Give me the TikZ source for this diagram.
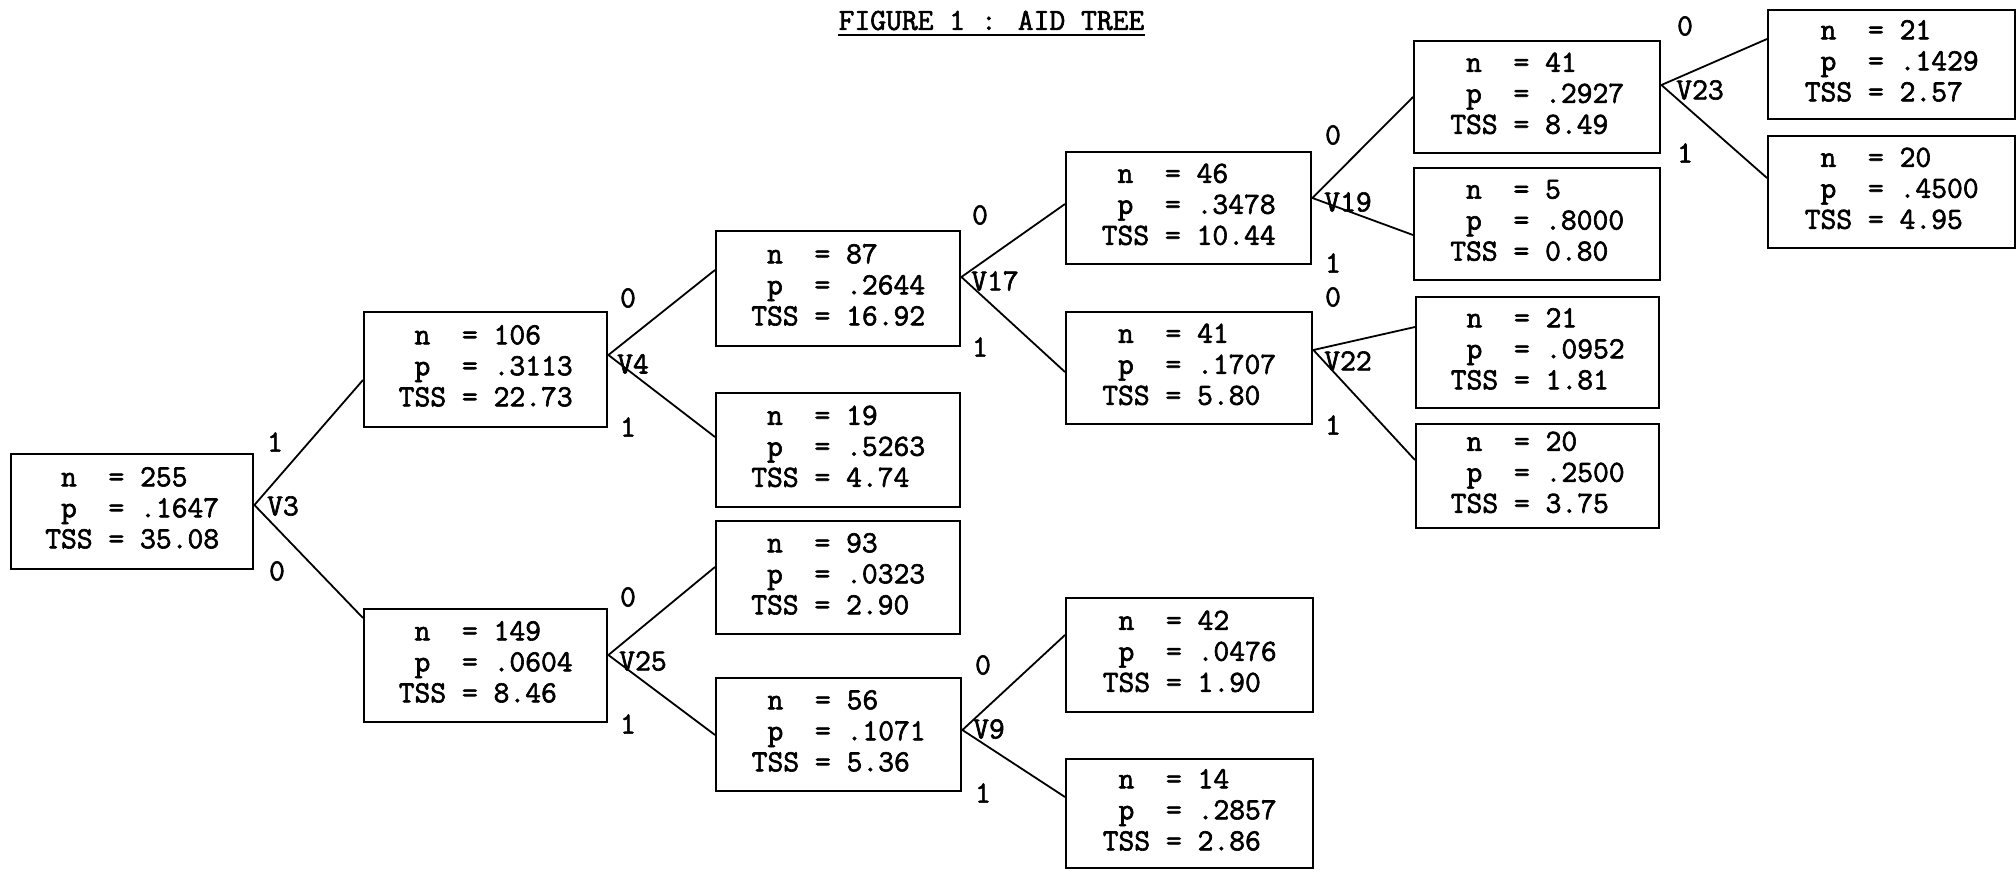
\documentclass[tikz,border=0pt]{standalone}
\usepackage{fontspec}
\newfontfamily\tw[FakeBold=2]{Latin Modern Mono}
\newcommand\s{\hphantom{0}}
\newcommand\cellt[3]{\s n\s\s=\s#1\\\s p\s\s=\s#2\\TSS\s=\s#3\rule[-8pt]{0pt}{8pt}}
\begin{document}
\begin{tikzpicture}[x=1pt,y=-1pt,
  cell/.style={draw,line width=2.4pt,anchor=north west,align=left,inner sep=0pt,
    font=\tw\fontsize{30.7pt}{31pt}\selectfont},
  lab/.style={inner sep=0pt,font=\tw\fontsize{30.7pt}{31pt}\selectfont},
  con/.style={line width=1.8pt}]
\useasboundingbox (0,0) rectangle (2016,872);
% title
\node[lab] (title) at (991.5,20.5) {FIGURE 1 : AID TREE};
\draw[line width=2pt] ([yshift=-5pt]title.south west) -- ([yshift=-5pt]title.south east);
% boxes
\node[cell,minimum width=242pt,minimum height=115pt] (root) at (10,453) {\cellt{255}{.1647}{35.08}};
\node[cell,minimum width=243pt,minimum height=115pt] (b106) at (363,311) {\cellt{106}{.3113}{22.73}};
\node[cell,minimum width=243pt,minimum height=113pt] (b149) at (363,608) {\cellt{149}{.0604}{8.46}};
\node[cell,minimum width=244pt,minimum height=115pt] (b87) at (715,230) {\cellt{87}{.2644}{16.92}};
\node[cell,minimum width=244pt,minimum height=114pt] (b19) at (715,392) {\cellt{19}{.5263}{4.74}};
\node[cell,minimum width=244pt,minimum height=113pt] (b93) at (715,520) {\cellt{93}{.0323}{2.90}};
\node[cell,minimum width=245pt,minimum height=113pt] (b56) at (715,677) {\cellt{56}{.1071}{5.36}};
\node[cell,minimum width=245pt,minimum height=112pt] (b46) at (1065,151) {\cellt{46}{.3478}{10.44}};
\node[cell,minimum width=246pt,minimum height=112pt] (b41m) at (1065,311) {\cellt{41}{.1707}{5.80}};
\node[cell,minimum width=247pt,minimum height=114pt] (b42) at (1065,597) {\cellt{42}{.0476}{1.90}};
\node[cell,minimum width=247pt,minimum height=109pt] (b14) at (1065,758) {\cellt{14}{.2857}{2.86}};
\node[cell,minimum width=246pt,minimum height=112pt] (b41u) at (1413,40) {\cellt{41}{.2927}{8.49}};
\node[cell,minimum width=246pt,minimum height=112pt] (b5) at (1413,167) {\cellt{5}{.8000}{0.80}};
\node[cell,minimum width=243pt,minimum height=111pt] (b0952) at (1415,296) {\cellt{21}{.0952}{1.81}};
\node[cell,minimum width=243pt,minimum height=104pt] (b2500) at (1415,423) {\cellt{20}{.2500}{3.75}};
\node[cell,minimum width=247pt,minimum height=109pt] (b21) at (1767,9) {\cellt{21}{.1429}{2.57}};
\node[cell,minimum width=247pt,minimum height=112pt] (b20) at (1767,135) {\cellt{20}{.4500}{4.95}};
% branch points
\coordinate (v3) at ([yshift=-52pt]root.north east);
\coordinate (v4) at ([yshift=-44pt]b106.north east);
\coordinate (v25) at ([yshift=-47pt]b149.north east);
\coordinate (v17) at ([yshift=-47pt]b87.north east);
\coordinate (v9) at ([yshift=-53pt]b56.north east);
\coordinate (v19) at ([yshift=-47pt]b46.north east);
\coordinate (v22) at ([yshift=-39pt]b41m.north east);
\coordinate (v23) at ([yshift=-45pt]b41u.north east);
% connectors
\draw[con] ([yshift=-69pt]b106.north west) -- (v3) -- ([yshift=-10pt]b149.north west);
\draw[con] ([yshift=-40pt]b87.north west) -- (v4) -- ([yshift=-45pt]b19.north west);
\draw[con] ([yshift=-47pt]b93.north west) -- (v25) -- ([yshift=-58pt]b56.north west);
\draw[con] ([yshift=-53pt]b46.north west) -- (v17) -- ([yshift=-61pt]b41m.north west);
\draw[con] ([yshift=-38pt]b42.north west) -- (v9) -- ([yshift=-39pt]b14.north west);
\draw[con] ([yshift=-57pt]b41u.north west) -- (v19) -- ([yshift=-68pt]b5.north west);
\draw[con] ([yshift=-31pt]b0952.north west) -- (v22) -- ([yshift=-37pt]b2500.north west);
\draw[con] ([yshift=-30pt]b21.north west) -- (v23) -- ([yshift=-43pt]b20.north west);
% split labels
\node[lab] (lv3) at (283,506) {V3};
\node[lab] (lv4) at (633,364) {V4};
\node[lab] (lv25) at (643,661) {V25};
\node[lab] (lv17) at (995,281) {V17};
\node[lab] (lv9) at (989,729) {V9};
\node[lab] (lv19) at (1348,202) {V19};
\node[lab] (lv22) at (1348,361) {V22};
\node[lab] (lv23) at (1700,90) {V23};
% branch value labels
\node[lab] (a1) at (275,442) {1};
\node[lab] (a0) at (277,571) {0};
\node[lab] (c0) at (628,298) {0};
\node[lab] (c1) at (628,427) {1};
\node[lab] (d0) at (628,597) {0};
\node[lab] (d1) at (628,724) {1};
\node[lab] (e0) at (980,215) {0};
\node[lab] (e1) at (980,347) {1};
\node[lab] (f0) at (983,665) {0};
\node[lab] (f1) at (983,793) {1};
\node[lab] (g0) at (1333,135) {0};
\node[lab] (g1) at (1333,263) {1};
\node[lab] (h0) at (1333,297) {0};
\node[lab] (h1) at (1333,425) {1};
\node[lab] (k0) at (1685,26) {0};
\node[lab] (k1) at (1685,153) {1};
\end{tikzpicture}
\end{document}
